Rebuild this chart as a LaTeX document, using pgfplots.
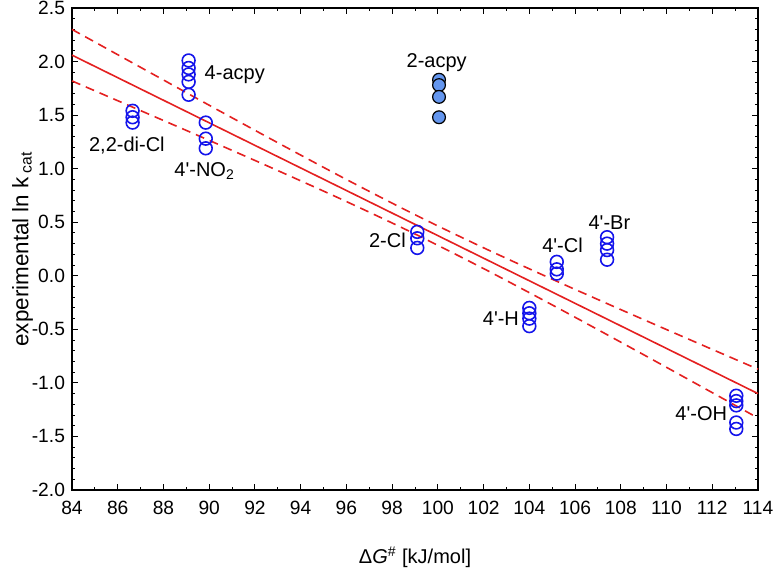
\documentclass[border=0pt]{standalone}
\usepackage{fontspec}
\setmainfont{Liberation Sans}
\usepackage{pgfplots}
\pgfplotsset{compat=1.18}

\definecolor{fitred}{RGB}{228,32,32}
\definecolor{ptblue}{RGB}{20,20,235}
\definecolor{fillblue}{RGB}{100,150,238}
\newcommand{\pr}{\textquotesingle}

\begin{document}
\begin{tikzpicture}
\useasboundingbox (-36pt,-45.5pt) rectangle (351pt,245pt);
\begin{axis}[
    scale only axis,
    width=343pt, height=241pt,
    xmin=84, xmax=114, ymin=-2, ymax=2.5,
    xtick={84,86,...,114},
    ytick={-2,-1.5,-1,-0.5,0,0.5,1,1.5,2,2.5},
    minor x tick num=1, minor y tick num=4,
    tick align=inside,
    major tick length=3pt, minor tick length=1.6pt,
    tick style={black, line width=0.5pt},
    axis line style={line width=0.6pt},
    /pgf/number format/assume math mode=true,
    yticklabel style={/pgf/number format/.cd, fixed, fixed zerofill, precision=1},
    xticklabel style={yshift=-2pt},
    ticklabel style={font=\fontsize{9.6}{11}\selectfont},
    xlabel={Δ\textit{G}\textsuperscript{\#} [kJ/mol]},
    ylabel={experimental ln k\,\textsubscript{cat}},
    xlabel style={font=\fontsize{10}{12}\selectfont, at={(axis description cs:0.5,-0.14)}, anchor=center},
    ylabel style={font=\fontsize{11.2}{13}\selectfont, at={(axis description cs:-0.072,0.5)}, anchor=center},
    clip=false,
]
% open circles
\addplot[only marks, mark=o, mark size=3.2pt, ptblue, mark options={line width=0.8pt}]
coordinates {
    (86.65,1.54) (86.65,1.48) (86.65,1.43)
    (89.1,2.01) (89.1,1.94) (89.1,1.88) (89.1,1.81) (89.1,1.69)
    (89.85,1.43) (89.85,1.28) (89.85,1.19)
    (99.1,0.41) (99.1,0.35) (99.1,0.26)
    (104.0,-0.30) (104.0,-0.35) (104.0,-0.40) (104.0,-0.47)
    (105.2,0.13) (105.2,0.06) (105.2,0.02)
    (107.4,0.36) (107.4,0.30) (107.4,0.24) (107.4,0.15)
    (113.05,-1.12) (113.05,-1.17) (113.05,-1.21) (113.05,-1.37) (113.05,-1.43)
};
% filled circles (2-acpy)
\addplot[only marks, mark=*, mark size=3.2pt,
    mark options={fill=fillblue, draw=black, line width=0.6pt}]
coordinates {(100.05,1.83) (100.05,1.78) (100.05,1.67) (100.05,1.48)};

% regression line and confidence band
\addplot[fitred, line width=0.8pt] coordinates {(84,2.06) (114,-1.10)};
\addplot[fitred, line width=0.8pt, dash pattern=on 4.5pt off 3pt, smooth]
coordinates {(84,2.300) (87,1.946) (90,1.592) (93,1.242) (96,0.899) (99,0.570)
    (102,0.261) (105,-0.032) (108,-0.316) (111,-0.595) (114,-0.872)};
\addplot[fitred, line width=0.8pt, dash pattern=on 4.5pt off 3pt, smooth]
coordinates {(84,1.819) (87,1.542) (90,1.264) (93,0.982) (96,0.693) (99,0.390)
    (102,0.067) (105,-0.272) (108,-0.620) (111,-0.973) (114,-1.328)};

% labels
\begin{scope}[every node/.style={font=\fontsize{10}{11}\selectfont, inner sep=1pt}]
\node[anchor=west] at (axis cs:89.7,1.88) {4-acpy};
\node at (axis cs:86.4,1.22) {2,2-di-Cl};
\node at (axis cs:89.8,0.98) {4\pr-NO\textsubscript{2}};
\node at (axis cs:99.95,1.99) {2-acpy};
\node[anchor=east] at (axis cs:98.7,0.33) {2-Cl};
\node[anchor=east] at (axis cs:103.65,-0.40) {4\pr-H};
\node at (axis cs:105.45,0.28) {4\pr-Cl};
\node at (axis cs:107.5,0.50) {4\pr-Br};
\node[anchor=east] at (axis cs:112.75,-1.29) {4\pr-OH};
\end{scope}
\end{axis}
\end{tikzpicture}
\end{document}
